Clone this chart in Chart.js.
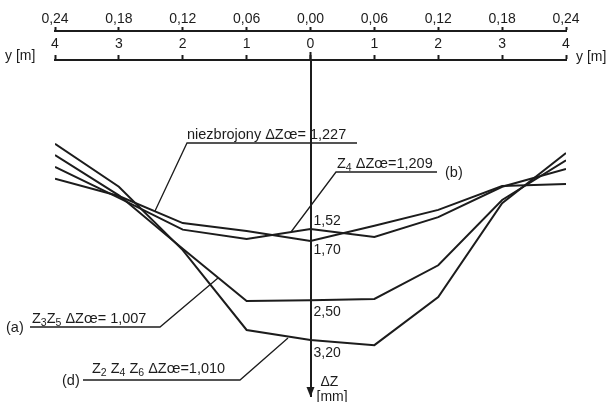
<!DOCTYPE html>
<html>
<head>
<meta charset="utf-8">
<script src="https://cdn.jsdelivr.net/npm/chart.js@4.4.0/dist/chart.umd.min.js"></script>
<style>
  html, body { margin: 0; padding: 0; background: #fff; }
  #wrap { width: 615px; height: 402px; }
</style>
</head>
<body>
<div id="wrap"><canvas id="chart"></canvas></div>
<script>
// distance from the axis y [m]
const yPos = [-4, -3, -2, -1, 0, 1, 2, 3, 4];
// settlement dZ [mm]
const dzD = [0.23, 0.88, 1.84, 3.05, 3.20, 3.28, 2.55, 1.13, 0.37];     // (d) Z2 Z4 Z6
const dzA = [0.40, 1.01, 1.82, 2.61, 2.60, 2.58, 2.07, 1.08, 0.48];     // (a) Z3 Z5
const dzP = [0.58, 1.05, 1.53, 1.67, 1.52, 1.64, 1.34, 0.88, 0.61];     // niezbrojony
const dzQ = [0.76, 1.02, 1.43, 1.55, 1.70, 1.47, 1.23, 0.87, 0.84];     // (b) Z4
// upper scale ticks
const topTicks = [-0.24, -0.18, -0.12, -0.06, 0, 0.06, 0.12, 0.18, 0.24];

const INK = '#1c1c1c';
const FONT = '"Liberation Sans", Arial, sans-serif';
Chart.defaults.font.family = FONT;
Chart.defaults.font.size = 14;
Chart.defaults.color = INK;

const toPts = arr => yPos.map((v, i) => ({ x: v, y: arr[i] }));
const lineSet = arr => ({
    data: toPts(arr),
    borderColor: INK,
    borderWidth: 2,
    pointRadius: 0,
    tension: 0,
    fill: false,
    xAxisID: 'x',
    yAxisID: 'y'
});

// draw text with subscripts: parts = [[text, isSub], ...]
function rich(ctx, parts, x, y) {
    let cx = x;
    parts.forEach(([t, sub]) => {
        ctx.font = (sub ? '10.5px ' : '14.5px ') + FONT;
        ctx.fillText(t, cx, sub ? y + 3 : y);
        cx += ctx.measureText(t).width;
    });
}

function seg(ctx, pts, w) {
    ctx.beginPath();
    ctx.lineWidth = w || 1.3;
    ctx.moveTo(pts[0][0], pts[0][1]);
    for (let i = 1; i < pts.length; i++) ctx.lineTo(pts[i][0], pts[i][1]);
    ctx.stroke();
}

const notes = {
    id: 'notes',
    afterDraw(chart) {
        const ctx = chart.ctx;
        const x0 = chart.scales.x.getPixelForValue(0);
        const top = chart.chartArea.top, bot = chart.chartArea.bottom;
        ctx.save();
        ctx.strokeStyle = INK;
        ctx.fillStyle = INK;
        ctx.textBaseline = 'alphabetic';

        // axis extension + arrow
        seg(ctx, [[x0, top - 8], [x0, top]], 2);
        ctx.beginPath();
        ctx.moveTo(x0 - 4, bot - 9);
        ctx.lineTo(x0 + 4, bot - 9);
        ctx.lineTo(x0, bot + 1);
        ctx.closePath();
        ctx.fill();

        // y [m]
        ctx.font = '14px ' + FONT;
        ctx.fillText('y [m]', 5, 60);
        ctx.fillText('y [m]', 576, 61);

        // center values
        ctx.fillText('1,52', x0 + 3, 225);
        ctx.fillText('1,70', x0 + 3, 254);
        ctx.fillText('2,50', x0 + 3, 316);
        ctx.fillText('3,20', x0 + 3, 357);
        ctx.fillText('\u0394Z', x0 + 10, 386);
        ctx.fillText('[mm]', x0 + 6, 401);

        // niezbrojony
        rich(ctx, [['niezbrojony \u0394Z\u0153= 1,227', 0]], 187, 139);
        seg(ctx, [[155, 211], [187, 143], [357, 143]]);

        // (b)
        rich(ctx, [['Z', 0], ['4', 1], [' \u0394Z\u0153=1,209', 0]], 337, 168);
        seg(ctx, [[291, 232], [336, 172], [437, 172]]);
        ctx.font = '14.5px ' + FONT;
        ctx.fillText('(b)', 445, 177);

        // (a)
        ctx.font = '14.5px ' + FONT;
        ctx.fillText('(a)', 6, 332);
        rich(ctx, [['Z', 0], ['3', 1], ['Z', 0], ['5', 1], [' \u0394Z\u0153= 1,007', 0]], 32, 323);
        seg(ctx, [[30, 327], [160, 327], [218, 278]]);

        // (d)
        ctx.font = '14.5px ' + FONT;
        ctx.fillText('(d)', 62, 385);
        rich(ctx, [['Z', 0], ['2', 1], [' Z', 0], ['4', 1], [' Z', 0], ['6', 1], [' \u0394Z\u0153=1,010', 0]], 92, 373);
        seg(ctx, [[83, 380], [240, 380], [288, 338]]);

        ctx.restore();
    }
};

new Chart(document.getElementById('chart').getContext('2d'), {
    type: 'line',
    data: {
        datasets: [lineSet(dzD), lineSet(dzA), lineSet(dzP), lineSet(dzQ)]
    },
    options: {
        responsive: true,
        maintainAspectRatio: false,
        animation: false,
        layout: { padding: { top: 0, left: 55, right: 49, bottom: 6 } },
        plugins: { legend: { display: false }, tooltip: { enabled: false } },
        scales: {
            x: {
                type: 'linear',
                position: 'top',
                weight: 0,
                min: -4, max: 4,
                afterBuildTicks: s => { s.ticks = yPos.map(v => ({ value: v })); },
                afterFit: s => { s.height = 29; },
                ticks: {
                    padding: 2,
                    maxRotation: 0,
                    callback: v => String(Math.abs(v))
                },
                grid: { drawOnChartArea: false, tickLength: 5, tickWidth: 2, tickColor: INK },
                border: { color: INK, width: 2 }
            },
            x2: {
                type: 'linear',
                position: 'top',
                weight: 1,
                min: -0.24, max: 0.24,
                afterBuildTicks: s => { s.ticks = topTicks.map(v => ({ value: v })); },
                afterFit: s => { s.height = 31; },
                ticks: {
                    padding: -1,
                    maxRotation: 0,
                    callback: v => Math.abs(v).toFixed(2).replace('.', ',')
                },
                grid: { drawOnChartArea: false, tickLength: 4, tickWidth: 2, tickColor: INK },
                border: { color: INK, width: 2 }
            },
            y: {
                type: 'linear',
                position: { x: 0 },
                reverse: true,
                min: -1.04, max: 4.05,
                ticks: { display: false },
                grid: { drawOnChartArea: false, drawTicks: false },
                border: { color: INK, width: 2 }
            }
        }
    },
    plugins: [notes]
});
</script>
</body>
</html>
